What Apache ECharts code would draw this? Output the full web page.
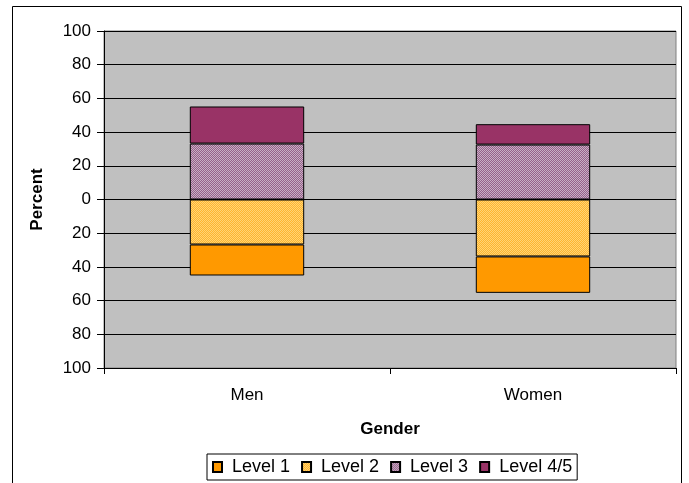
<!DOCTYPE html>
<html>
<head>
<meta charset="utf-8">
<script src="https://cdn.jsdelivr.net/npm/echarts@6/dist/echarts.min.js"></script>
<style>
html,body{margin:0;padding:0;background:#fff;}
#c{width:689px;height:483px;}
</style>
</head>
<body>
<div id="c"></div>
<script>
// ---- data ----
const categories = ['Men', 'Women'];
const level1 = [18.4, 21.6];   // shown below zero
const level2 = [26.7, 33.8];   // shown below zero
const level3 = [33.2, 32.6];
const level45 = [22.0, 12.1];
const yTicks = { min: -100, max: 100, interval: 20 };

function pattern(c1, c2) {
  const cv = document.createElement('canvas');
  cv.width = 2; cv.height = 2;
  const ctx = cv.getContext('2d');
  ctx.fillStyle = c1; ctx.fillRect(0, 0, 2, 2);
  ctx.fillStyle = c2; ctx.fillRect(0, 0, 1, 1); ctx.fillRect(1, 1, 1, 1);
  return { image: cv, repeat: 'repeat' };
}

const font = "'Liberation Sans', Arial, sans-serif";
const border = { borderColor: '#000', borderWidth: 1 };

const chart = echarts.init(document.getElementById('c'), null, { renderer: 'canvas' });
chart.setOption({
  animation: false,
  backgroundColor: '#fff',
  textStyle: { fontFamily: font, color: '#000' },
  graphic: [{
    type: 'rect', silent: true, z: -10,
    shape: { x: 12.5, y: 6.5, width: 669, height: 520 },
    style: { fill: 'none', stroke: '#000', lineWidth: 1 }
  }],
  grid: {
    left: 104, right: 13, top: 31, bottom: 115,
    show: true, backgroundColor: '#C0C0C0', borderColor: '#808080', borderWidth: 1
  },
  legend: {
    data: ['Level 1', 'Level 2', 'Level 3', 'Level 4/5'],
    left: 207, top: 454,
    orient: 'horizontal',
    icon: 'rect', itemWidth: 9, itemHeight: 10, itemGap: 11,
    borderColor: '#000', borderWidth: 1, padding: [4, 5, 4, 5],
    textStyle: { fontSize: 18, color: '#000', fontFamily: font, padding: [0, 0, 0, 5] }
  },
  xAxis: {
    type: 'category', data: categories,
    axisLine: { onZero: false, lineStyle: { color: '#000', width: 1 } },
    axisTick: { show: true, length: 6, alignWithLabel: false, lineStyle: { color: '#000' } },
    axisLabel: { fontSize: 17, color: '#000', margin: 19, fontFamily: font },
    splitLine: { show: false },
    name: 'Gender', nameLocation: 'middle', nameGap: 53,
    nameTextStyle: { fontSize: 17, fontWeight: 'bold', color: '#000', fontFamily: font }
  },
  yAxis: {
    type: 'value', min: yTicks.min, max: yTicks.max, interval: yTicks.interval,
    axisLine: { show: true, onZero: false, lineStyle: { color: '#000', width: 1 } },
    axisTick: { show: true, length: 7, lineStyle: { color: '#000' } },
    axisLabel: { fontSize: 17, color: '#000', margin: 13, fontFamily: font,
      formatter: v => String(Math.abs(v)) },
    splitLine: { show: true, lineStyle: { color: '#000', width: 1 } },
    name: 'Percent', nameLocation: 'middle', nameGap: 58,
    nameTextStyle: { fontSize: 17, fontWeight: 'bold', color: '#000', fontFamily: font }
  },
  series: [
    { name: 'Level 2', type: 'bar', stack: 'g', barWidth: '40%',
      data: level2.map(v => -v),
      itemStyle: Object.assign({ color: pattern('#FFB52E', '#FFD476') }, border) },
    { name: 'Level 1', type: 'bar', stack: 'g', barWidth: '40%',
      data: level1.map(v => -v),
      itemStyle: Object.assign({ color: '#FF9900' }, border) },
    { name: 'Level 3', type: 'bar', stack: 'g', barWidth: '40%',
      data: level3,
      itemStyle: Object.assign({ color: pattern('#96608A', '#C8B0C4') }, border) },
    { name: 'Level 4/5', type: 'bar', stack: 'g', barWidth: '40%',
      data: level45,
      itemStyle: Object.assign({ color: '#993366' }, border) }
  ]
});
</script>
</body>
</html>
